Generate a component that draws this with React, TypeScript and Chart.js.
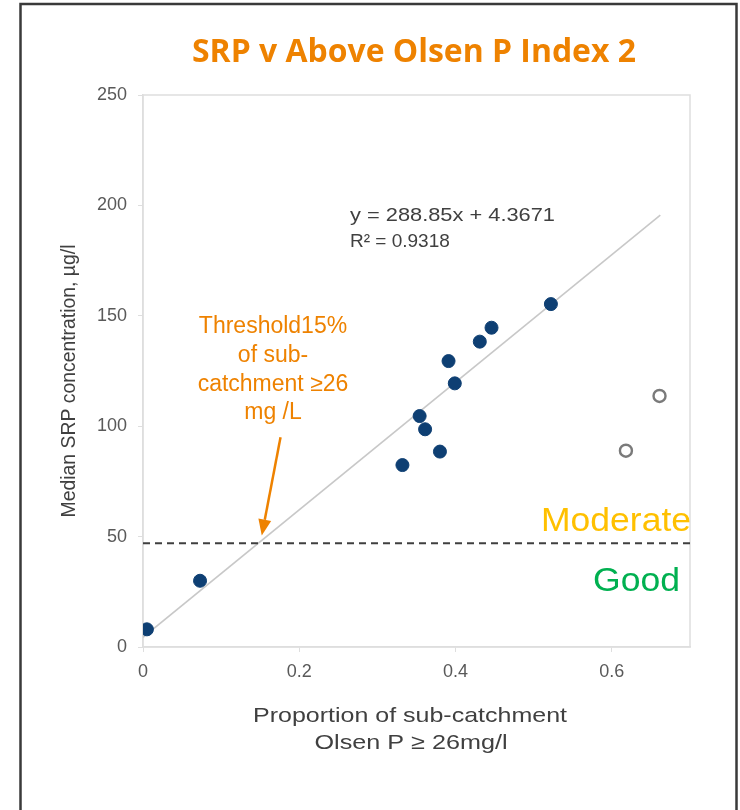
import React, { useEffect, useRef } from "react";
import { Chart, registerables } from "chart.js";

Chart.register(...registerables);

// ---- Data ----
const filledX = [0.005, 0.073, 0.332, 0.354, 0.361, 0.38, 0.391, 0.399, 0.431, 0.446, 0.522];
const filledY = [8, 30, 82.4, 104.6, 98.6, 88.5, 129.5, 119.4, 138.3, 144.6, 155.3];
const hollowX = [0.618, 0.661];
const hollowY = [88.9, 113.7];
const trendX = [0, 0.662];
const trendY = [4.37, 195.6];
const thresholdX = [0, 0.7];
const thresholdY = [47, 47];
const xTicks = [0, 0.2, 0.4, 0.6];
const yTicks = [0, 50, 100, 150, 200, 250];
const arrowFrom = { x: 0.176, y: 95 };
const arrowTo = { x: 0.152, y: 50.5 };

const titleText = "SRP v Above Olsen P Index 2";
const yTitle = "Median SRP concentration, \u00b5g/l";
const xTitleLines = ["Proportion of sub-catchment", "Olsen P \u2265 26mg/l"];
const equationLines = ["y = 288.85x + 4.3671", "R\u00b2 = 0.9318"];
const thresholdLines = ["Threshold15%", "of sub-", "catchment \u226526", "mg /L"];

const ORANGE = "#EE8200";
const SANS = '"Liberation Sans", Arial, sans-serif';

function fitText(ctx: CanvasRenderingContext2D, text: string, x: number, y: number, width: number | null, align: "left" | "center" | "right") {
  const w = ctx.measureText(text).width;
  const sx = width ? width / w : 1;
  ctx.save();
  ctx.translate(x, y);
  ctx.scale(sx, 1);
  ctx.textAlign = align;
  ctx.fillText(text, 0, 0);
  ctx.restore();
}

export default function App() {
  const ref = useRef<HTMLCanvasElement>(null);

  useEffect(() => {
    const canvas = ref.current!;
    const overlay = {
      id: "overlay",
      beforeDraw(chart: any) {
        const ctx: CanvasRenderingContext2D = chart.ctx;
        const { left, right, top, bottom } = chart.chartArea;
        ctx.save();
        ctx.fillStyle = "#ffffff";
        ctx.fillRect(0, 0, chart.width, chart.height);
        // outer frame
        ctx.strokeStyle = "#3a3a3a";
        ctx.lineWidth = 2.5;
        ctx.strokeRect(20.5, 4, 716, 830);
        // plot frame
        ctx.strokeStyle = "#dedede";
        ctx.lineWidth = 1.5;
        ctx.strokeRect(left, top, right - left, bottom - top);
        // title
        ctx.fillStyle = ORANGE;
        ctx.font = 'bold 32px "Open Sans", sans-serif';
        ctx.textBaseline = "alphabetic";
        fitText(ctx, titleText, 414, 62, 444, "center");
        // y title
        ctx.fillStyle = "#404040";
        ctx.font = `19.5px ${SANS}`;
        ctx.save();
        ctx.translate(70, 381);
        ctx.rotate(-Math.PI / 2);
        ctx.textBaseline = "middle";
        fitText(ctx, yTitle, 0, 0, 273, "center");
        ctx.restore();
        // x title
        ctx.font = `21px ${SANS}`;
        ctx.textBaseline = "alphabetic";
        fitText(ctx, xTitleLines[0], 410, 722, 314, "center");
        fitText(ctx, xTitleLines[1], 411, 749, 193, "center");
        ctx.restore();
      },
      afterDatasetsDraw(chart: any) {
        const ctx: CanvasRenderingContext2D = chart.ctx;
        const xs = chart.scales.x;
        const ys = chart.scales.y;
        ctx.save();
        ctx.textBaseline = "alphabetic";
        // equation
        ctx.fillStyle = "#404040";
        ctx.font = `19px ${SANS}`;
        fitText(ctx, equationLines[0], 350, 221, 205, "left");
        fitText(ctx, equationLines[1], 350, 247, null, "left");
        // threshold annotation
        ctx.fillStyle = ORANGE;
        ctx.font = `23px ${SANS}`;
        const tb = [333, 362, 391, 419];
        thresholdLines.forEach((t, i) => fitText(ctx, t, 273, tb[i], null, "center"));
        // arrow
        const x1 = xs.getPixelForValue(arrowFrom.x);
        const y1 = ys.getPixelForValue(arrowFrom.y);
        const x2 = xs.getPixelForValue(arrowTo.x);
        const y2 = ys.getPixelForValue(arrowTo.y);
        const ang = Math.atan2(y2 - y1, x2 - x1);
        const hl = 16, hw = 6.5;
        const bx = x2 - hl * Math.cos(ang), by = y2 - hl * Math.sin(ang);
        ctx.strokeStyle = ORANGE;
        ctx.lineWidth = 2.5;
        ctx.beginPath();
        ctx.moveTo(x1, y1);
        ctx.lineTo(bx, by);
        ctx.stroke();
        ctx.beginPath();
        ctx.moveTo(x2, y2);
        ctx.lineTo(bx + hw * Math.sin(ang), by - hw * Math.cos(ang));
        ctx.lineTo(bx - hw * Math.sin(ang), by + hw * Math.cos(ang));
        ctx.closePath();
        ctx.fillStyle = ORANGE;
        ctx.fill();
        // category labels
        ctx.font = `34px ${SANS}`;
        ctx.fillStyle = "#FFC000";
        fitText(ctx, "Moderate", 691, 531, 150, "right");
        ctx.fillStyle = "#00B050";
        fitText(ctx, "Good", 680, 591, 87, "right");
        ctx.restore();
      },
    };

    const chart = new Chart(canvas, {
      type: "scatter",
      data: {
        datasets: [
          {
            data: filledX.map((x, i) => ({ x, y: filledY[i] })),
            backgroundColor: "#0E3F73",
            borderColor: "#0E3F73",
            pointRadius: 6.5,
            pointBorderWidth: 1,
          },
          {
            data: hollowX.map((x, i) => ({ x, y: hollowY[i] })),
            backgroundColor: "#ffffff",
            borderColor: "#7a7a7a",
            pointRadius: 6,
            pointBorderWidth: 2.4,
          },
          {
            data: thresholdX.map((x, i) => ({ x, y: thresholdY[i] })),
            showLine: true,
            borderColor: "#3f3f3f",
            borderWidth: 2,
            borderDash: [7, 5],
            pointRadius: 0,
          },
          {
            data: trendX.map((x, i) => ({ x, y: trendY[i] })),
            showLine: true,
            borderColor: "#c8c8c8",
            borderWidth: 1.6,
            pointRadius: 0,
          },
        ],
      },
      options: {
        responsive: false,
        animation: false,
        devicePixelRatio: 1,
        layout: { padding: { left: 0, right: 50, top: 95, bottom: 0 } },
        plugins: { legend: { display: false }, tooltip: { enabled: false }, title: { display: false } },
        scales: {
          x: {
            type: "linear",
            min: 0,
            max: 0.7,
            afterFit: (s: any) => { s.height = 163; },
            afterBuildTicks: (s: any) => { s.ticks = xTicks.map((v) => ({ value: v })); },
            ticks: {
              color: "#595959",
              font: { family: SANS, size: 18 },
              padding: 9,
              callback: (v: any) => String(v),
            },
            grid: { drawOnChartArea: false, drawTicks: true, tickLength: 5, color: "#dedede" },
            border: { color: "#dedede", width: 1.5 },
          },
          y: {
            type: "linear",
            min: 0,
            max: 250,
            afterFit: (s: any) => { s.width = 143; },
            afterBuildTicks: (s: any) => { s.ticks = yTicks.map((v) => ({ value: v })); },
            ticks: {
              color: "#595959",
              font: { family: SANS, size: 18 },
              padding: 11,
              callback: (v: any) => String(v),
            },
            grid: { drawOnChartArea: false, drawTicks: true, tickLength: 5, color: "#dedede" },
            border: { color: "#dedede", width: 1.5 },
          },
        },
      },
      plugins: [overlay],
    } as any);
    return () => chart.destroy();
  }, []);

  return (
    <div style={{ position: "fixed", left: 0, top: 0, width: 740, height: 810, background: "#fff" }}>
      <canvas ref={ref} width={740} height={810} style={{ display: "block", width: 740, height: 810 }} />
    </div>
  );
}
